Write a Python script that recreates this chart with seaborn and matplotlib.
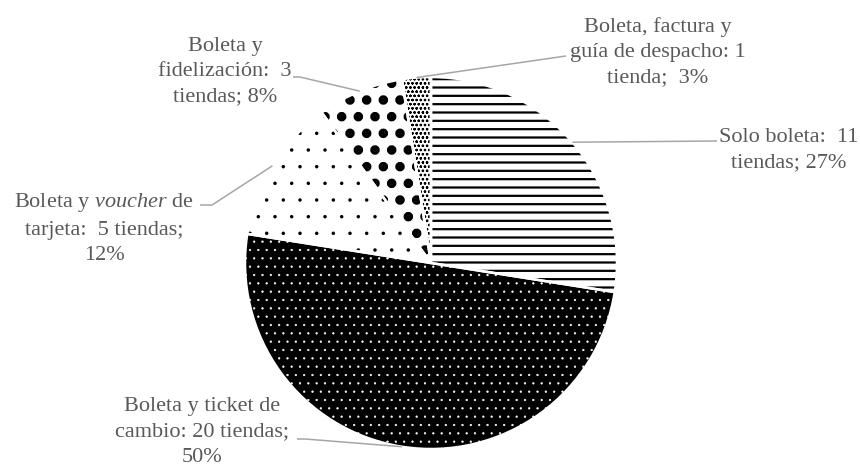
import numpy as np
import matplotlib
matplotlib.use("Agg")
import matplotlib.pyplot as plt
import seaborn as sns

# data
categorias = ["Solo boleta", "Boleta y ticket de cambio", "Boleta y voucher de tarjeta",
              "Boleta y fidelización", "Boleta, factura y guía de despacho"]
tiendas = [11, 20, 5, 3, 1]
porcentajes = ["27%", "50%", "12%", "8%", "3%"]

# label texts as wrapped in the original
etiquetas = [
    "Solo boleta:  11\ntiendas; 27%",
    "Boleta y ticket de\ncambio: 20 tiendas;\n50%",
    "Boleta y $voucher$ de\ntarjeta:  5 tiendas;\n12%",
    "Boleta y\nfidelización:  3\ntiendas; 8%",
    "Boleta, factura y\nguía de despacho: 1\ntienda;  3%",
]

# styling per slice: face colour, hatch, hatch colour, hatch linewidth
caras = ["white", "black", "white", "white", "white"]
tramas = ["--", "..", ".", ".", "oooo"]
color_trama = ["black", "white", "black", "black", "black"]
grosor_trama = [1.6, 0.4, 0.1, 4.4, 0.6]

# layout (pixels, y up)
pos_texto = [(789, 318), (202, 36), (104, 240), (225, 396), (658, 416)]
inicio_guia = [[(717, 327)], [(297, 29), (305, 29)], [(200, 263), (212, 263)],
               [(293, 391), (300, 391)], [(566, 412)]]

sns.set_style("white")
plt.rcParams["font.family"] = ["Liberation Serif", "DejaVu Serif"]
plt.rcParams["mathtext.fontset"] = "custom"
plt.rcParams["mathtext.rm"] = "Liberation Serif"
plt.rcParams["mathtext.it"] = "Liberation Serif:italic"

fig = plt.figure(figsize=(8.6, 4.68), dpi=100)
ax = fig.add_axes([0, 0, 1, 1])

centro = (431, 205)
radio = 186

cunas, _ = ax.pie(tiendas, colors=caras, hatch=tramas, startangle=90, counterclock=False,
                  center=centro, radius=radio, wedgeprops=dict(linewidth=0))
for w, c, lw in zip(cunas, color_trama, grosor_trama):
    w.set_edgecolor(c)
    w.set_linewidth(0)
    if hasattr(w, "set_hatchcolor"):
        w.set_hatchcolor(c)
    if hasattr(w, "set_hatch_linewidth"):
        w.set_hatch_linewidth(lw)

# white separators between slices
ax.pie(tiendas, startangle=90, counterclock=False, center=centro, radius=radio,
       wedgeprops=dict(fill=False, edgecolor="white", linewidth=1.8))

gris_texto = "#595959"
gris_linea = "#a6a6a6"
for w, txt, xy, ini in zip(cunas, etiquetas, pos_texto, inicio_guia):
    ang = np.deg2rad((w.theta1 + w.theta2) / 2)
    px = w.center[0] + w.r * np.cos(ang)
    py = w.center[1] + w.r * np.sin(ang)
    xs = [p[0] for p in ini] + [px]
    ys = [p[1] for p in ini] + [py]
    ax.plot(xs, ys, color=gris_linea, lw=1.1, solid_capstyle="butt")
    ax.text(xy[0], xy[1], txt, ha="center", va="center", multialignment="center",
            fontsize=16, color=gris_texto, linespacing=1.43)

ax.set_xlim(0, 860)
ax.set_ylim(0, 468)
ax.set_aspect("equal")
ax.axis("off")

fig.savefig("out.png", dpi=100)
